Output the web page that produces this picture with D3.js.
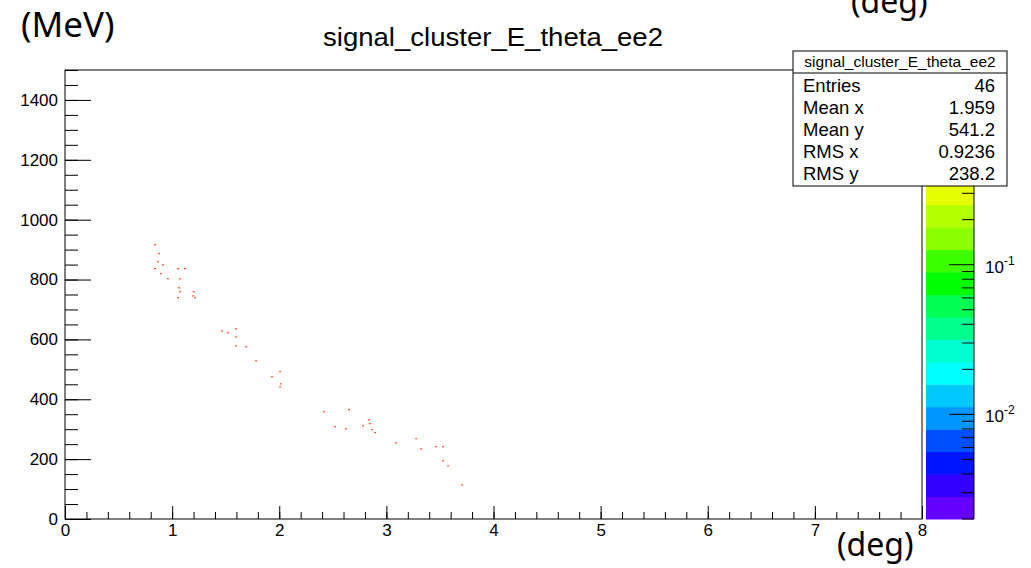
<!DOCTYPE html>
<html>
<head>
<meta charset="utf-8">
<script src="https://cdn.jsdelivr.net/npm/d3@7"></script>
<style>
  body { margin: 0; background: #fff; }
  svg text { font-family: "Liberation Sans", Arial, Helvetica, sans-serif; }
</style>
</head>
<body>
<svg id="chart"></svg>
<script>
var width = 1031, height = 568;

// scatter entries
var thetaDeg = [0.831, 0.868, 0.859, 0.906, 0.831, 1.046, 1.111, 0.887, 0.952, 1.064,
    1.055, 1.064, 1.195, 1.186, 1.046, 1.204, 1.457, 1.587, 1.513, 1.587,
    1.587, 1.681, 1.774, 1.998, 1.923, 2.007, 1.998, 2.409, 2.642, 2.512,
    2.614, 2.773, 2.829, 2.838, 2.857, 2.885, 3.081, 3.268, 3.315, 3.455,
    3.520, 3.520, 3.567, 3.697];
var energyMeV = [918, 888, 861, 851, 838, 838, 838, 821, 804, 804,
    774, 761, 761, 747, 741, 741, 630, 637, 624, 610,
    580, 577, 530, 494, 477, 453, 443, 360, 367, 310,
    303, 313, 333, 320, 300, 290, 256, 270, 236, 243,
    243, 196, 179, 116];

var xTicks = [0, 1, 2, 3, 4, 5, 6, 7, 8];
var yTicks = [0, 200, 400, 600, 800, 1000, 1200, 1400];
// the 10^0 label sits under the stats box, so only these two show
var zTickLabels = [{v: 0.01, exp: "-2"}, {v: 0.1, exp: "-1"}];

var statNames = ["Entries", "Mean x", "Mean y", "RMS x", "RMS y"];
var statValues = ["46", "1.959", "541.2", "0.9236", "238.2"];
var histName = "signal_cluster_E_theta_ee2";

// ROOT palette, 20 contour bands from bottom to top
var palette = ["#6400ff", "#3200ff", "#0014ff", "#0050ff", "#0096ff", "#00c8ff", "#00ffff",
    "#00ffd0", "#00ff8c", "#00ff50", "#00ff00", "#3cff00", "#8cff00", "#b4ff00", "#e6ff00",
    "#ffe000", "#ffb000", "#ff8000", "#ff4000", "#ff0000"];

var svg = d3.select("#chart").attr("width", width).attr("height", height);

var x = d3.scaleLinear().domain([0, 8]).range([65, 922]);
var y = d3.scaleLinear().domain([0, 1500]).range([519, 70]);
var z = d3.scaleLog().domain([0.002, 2]).range([519, 70]);

// title
svg.append("text")
    .attr("x", 493).attr("y", 46)
    .attr("text-anchor", "middle")
    .attr("textLength", 340)
    .attr("lengthAdjust", "spacingAndGlyphs")
    .style("font-size", "25px")
    .text(histName);

// points
svg.append("g").selectAll("rect")
    .data(thetaDeg.map((t, i) => [t, energyMeV[i]]))
    .enter().append("rect")
    .attr("x", d => x(d[0]))
    .attr("y", d => y(d[1]))
    .attr("width", 2).attr("height", 1)
    .attr("fill", "#ff2a00");

// axes
svg.append("g").attr("transform", "translate(0,519)")
    .call(d3.axisBottom(x).tickValues(xTicks).tickSize(-13).tickPadding(5).tickFormat(d3.format("d")));
svg.append("g").attr("transform", "translate(0,519)")
    .call(d3.axisBottom(x).tickValues(d3.range(0, 8.001, 0.2)).tickSize(-7).tickFormat(""));
svg.append("g").attr("transform", "translate(65,0)")
    .call(d3.axisLeft(y).tickValues(yTicks).tickSize(-26).tickPadding(7).tickFormat(d3.format("d")));
svg.append("g").attr("transform", "translate(65,0)")
    .call(d3.axisLeft(y).tickValues(d3.range(0, 1501, 50)).tickSize(-13).tickFormat(""));

svg.selectAll(".domain").remove();
svg.selectAll(".tick line").attr("stroke", "#000");
svg.selectAll(".tick text").style("font-size", "17px").style("font-family", "Liberation Sans, Arial, sans-serif").attr("fill", "#000");

// frame
svg.append("rect")
    .attr("x", 65).attr("y", 70)
    .attr("width", 922 - 65).attr("height", 519 - 70)
    .attr("fill", "none").attr("stroke", "#000").attr("stroke-width", 1);

// color bar
var logMin = Math.log10(0.002), logMax = Math.log10(2);
var bands = palette.map((c, i) => ({
    c: c,
    lo: Math.pow(10, logMin + (logMax - logMin) * i / palette.length),
    hi: Math.pow(10, logMin + (logMax - logMin) * (i + 1) / palette.length)
}));
svg.append("g").selectAll("rect")
    .data(bands).enter().append("rect")
    .attr("x", 926).attr("width", 48)
    .attr("y", d => z(d.hi))
    .attr("height", d => z(d.lo) - z(d.hi) + 0.5)
    .attr("fill", d => d.c);

var zMinor = [];
[0.001, 0.01, 0.1, 1].forEach(function(dec) {
    for (var k = 1; k <= 9; k++) {
        var v = dec * k;
        if (v >= 0.002 && v <= 2.0001) zMinor.push(v);
    }
});
var zAxis = svg.append("g");
zAxis.selectAll("line.minor").data(zMinor).enter().append("line")
    .attr("x1", d => ([0.01, 0.1, 1].indexOf(+d.toPrecision(3)) >= 0) ? 949 : 962)
    .attr("x2", 974)
    .attr("y1", d => z(d)).attr("y2", d => z(d))
    .attr("stroke", "#000");
zAxis.append("line")
    .attr("x1", 974).attr("x2", 974).attr("y1", 70).attr("y2", 519)
    .attr("stroke", "#000");
var zl = zAxis.selectAll("text").data(zTickLabels).enter().append("text")
    .attr("x", 985).attr("y", d => z(d.v) + 8)
    .style("font-size", "17px");
zl.append("tspan").text("10");
zl.append("tspan").attr("dy", -8).style("font-size", "12px").text(d => d.exp);

// stats box
var stats = svg.append("g");
stats.append("rect")
    .attr("x", 793).attr("y", 51).attr("width", 214).attr("height", 135)
    .attr("fill", "#fff").attr("stroke", "#000");
stats.append("line")
    .attr("x1", 793).attr("x2", 1007).attr("y1", 73).attr("y2", 73)
    .attr("stroke", "#000");
stats.append("text")
    .attr("x", 900).attr("y", 67)
    .attr("text-anchor", "middle")
    .style("font-size", "15.5px")
    .text(histName);
statNames.forEach(function(name, i) {
    stats.append("text").attr("x", 803).attr("y", 92 + i * 21.9)
        .style("font-size", "18.5px").text(name);
    stats.append("text").attr("x", 995).attr("y", 92 + i * 21.9)
        .attr("text-anchor", "end")
        .style("font-size", "18.5px").text(statValues[i]);
});

// unit labels
svg.append("text").attr("x", 21).attr("y", 37)
    .style("font-family", "Noto Sans").style("font-size", "35px").text("(MeV)");
svg.append("text").attr("x", 851).attr("y", 13)
    .style("font-family", "Noto Sans").style("font-size", "32px").text("(deg)");
svg.append("text").attr("x", 837).attr("y", 556)
    .style("font-family", "Noto Sans").style("font-size", "32px").text("(deg)");
</script>
</body>
</html>
